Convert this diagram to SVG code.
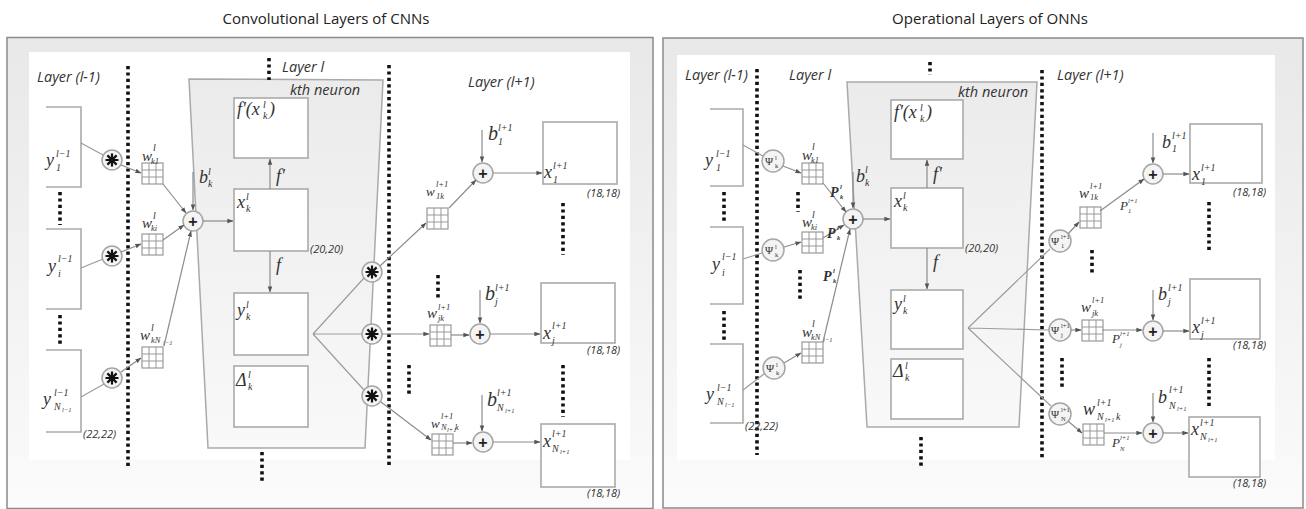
<svg xmlns="http://www.w3.org/2000/svg" xmlns:xlink="http://www.w3.org/1999/xlink" width="1306" height="509" viewBox="0 0 1306 509">
<defs>
<linearGradient id="bg" x1="0" y1="0" x2="0" y2="1"><stop offset="0" stop-color="#e8e8e8"/><stop offset="1" stop-color="#fbfbfb"/></linearGradient>
<linearGradient id="tg" x1="0" y1="0" x2="0" y2="1"><stop offset="0" stop-color="#ebebeb"/><stop offset="1" stop-color="#f9f9f9"/></linearGradient>
<marker id="ah" viewBox="0 0 8 8" refX="7.5" refY="4" markerWidth="6" markerHeight="6" orient="auto" markerUnits="userSpaceOnUse"><path d="M0 1L8 4L0 7z" fill="#555"/></marker>
<g id="gr"><rect width="21" height="21" fill="#fff" stroke="#999" stroke-width="1.2"/><path d="M7 0V21M14 0V21M0 7H21M0 14H21" stroke="#999" stroke-width="1"/></g>
<g id="cv"><circle r="10" class="cir"/><path d="M0-6.5V6.5M-6.5 0H6.5M-4.6-4.6L4.6 4.6M-4.6 4.6L4.6-4.6" stroke="#111" stroke-width="2.2"/></g>
<g id="sm"><circle r="10" class="cir"/><text x="0" y="5.5" class="pl">+</text></g>
</defs>
<style>
.frame{fill:url(#bg);stroke:#8a8a8a;stroke-width:1.5}
.inner{fill:#fff}
.trap{fill:url(#tg);stroke:#aaa;stroke-width:1.5}
.box{fill:#fff;stroke:#aaa;stroke-width:1.6}
.tbox{fill:none;stroke:#aaa;stroke-width:1.6}
.obox{fill:none;stroke:#aaa;stroke-width:1.6}
.ln{fill:none;stroke:#9c9c9c;stroke-width:1.2}
.ar{fill:none;stroke:#8c8c8c;stroke-width:1.2;marker-end:url(#ah)}
.dt{fill:none;stroke:#111;stroke-width:3.6;stroke-dasharray:3.2 3.2}
.cir{fill:#f4f4f4;stroke:#a5a5a5;stroke-width:1.5}
.t{font-family:"Open Sans","Liberation Sans",sans-serif;font-size:15px;fill:#222}
.lay{font-family:"Open Sans","Liberation Sans",sans-serif;font-style:italic;font-size:14.5px;fill:#333}
.dim{font-family:"Open Sans","Liberation Sans",sans-serif;font-style:italic;font-size:11px;fill:#333}
.m{font-family:"Liberation Serif","DejaVu Serif",serif;font-style:italic;font-size:18px;fill:#333}
.mw{font-family:"Liberation Serif","DejaVu Serif",serif;font-style:italic;font-size:15px;fill:#333}
.mb{font-family:"Liberation Serif","DejaVu Serif",serif;font-style:italic;font-size:20px;fill:#333}
.pp{font-family:"Liberation Serif","DejaVu Serif",serif;font-style:italic;font-weight:bold;font-size:14px;fill:#333}
.ps{font-family:"Liberation Serif","DejaVu Serif",serif;font-size:11px;fill:#333}
.s{font-size:10px}
.s9{font-size:8.5px}
.ss{font-size:6.5px}
.pl{font-family:"Liberation Sans",sans-serif;font-size:16px;font-weight:bold;fill:#222;text-anchor:middle}
</style>

<!-- frames -->
<g id="panel-left">
<rect class="frame" x="7" y="37.5" width="646" height="471"/>
<rect class="inner" x="29" y="52" width="601" height="408"/>
<text class="t" x="326" y="24" text-anchor="middle">Convolutional Layers of CNNs</text>
</g>
<g id="panel-right">
<rect class="frame" x="663" y="38" width="640" height="470"/>
<rect class="inner" x="677" y="55" width="598" height="405"/>
<text class="t" x="990" y="24" text-anchor="middle">Operational Layers of ONNs</text>
</g>

<!-- ===== LEFT PANEL ===== -->
<g id="L-neuron">
<path class="trap" d="M189 79L383 80L365 448L208 448Z"/>
<text class="lay" x="282" y="72">Layer l</text>
<text class="lay" x="290" y="95">kth neuron</text>
</g>
<g id="L-labels">
<text class="lay" x="37" y="82">Layer (l-1)</text>
<text class="lay" x="468" y="87">Layer (l+1)</text>
</g>
<g id="L-dots">
<path class="dt" d="M128 66V468M389 65V468M269 58V80M262 452V483M60 192V225M60 315V347M563 203V255M563 365V417M409 365V396M438 275V298"/>
</g>

<g id="L-y1"><path class="obox" d="M46 107H81V187H46"/><text class="m" x="46" y="166">y<tspan class="s" x="56" y="157">l−1</tspan><tspan class="s" x="56" y="171">1</tspan></text></g>
<g id="L-yi"><path class="obox" d="M46 229H81V309H46"/><text class="m" x="48" y="272">y<tspan class="s" x="58" y="262">l−1</tspan><tspan class="s" x="58" y="277">i</tspan></text></g>
<g id="L-yN"><path class="obox" d="M46 350H81V432H46"/><text class="m" x="43" y="405">y<tspan class="s" x="54" y="396">l−1</tspan><tspan class="s" x="54" y="410">N</tspan><tspan class="ss" x="62" y="412">l−1</tspan></text><text class="dim" x="83" y="438">(22,22)</text></g>

<g id="L-conv1"><use href="#cv" x="112" y="160"/></g>
<g id="L-conv2"><use href="#cv" x="112" y="256"/></g>
<g id="L-conv3"><use href="#cv" x="112" y="378"/></g>

<g id="L-w1"><use href="#gr" x="142" y="163"/><text class="mw" x="142" y="161">w<tspan class="s" x="153" y="151">l</tspan><tspan class="s9" x="151" y="164">k1</tspan></text></g>
<g id="L-w2"><use href="#gr" x="142" y="234"/><text class="mw" x="142" y="228">w<tspan class="s" x="153" y="219">l</tspan><tspan class="s9" x="151" y="231">ki</tspan></text></g>
<g id="L-w3"><use href="#gr" x="142" y="347"/><text class="mw" x="140" y="340">w<tspan class="s" x="151" y="331">l</tspan><tspan class="s9" x="151" y="343">kN</tspan><tspan class="ss" x="163" y="345">l−1</tspan></text></g>

<g id="L-sum"><use href="#sm" x="193" y="221"/><text class="m" x="199" y="183">b<tspan class="s" x="208" y="175">l</tspan><tspan class="s" x="208" y="187">k</tspan></text></g>

<g id="L-fbox"><rect class="box" x="234" y="98" width="74" height="60"/><text class="m" x="237" y="115">f'(x<tspan class="s" x="263" y="108">l</tspan><tspan class="s" x="263" y="119">k</tspan><tspan x="269" y="115">)</tspan></text></g>
<g id="L-xbox"><rect class="box" x="234" y="189" width="74" height="62"/><text class="m" x="237" y="208">x<tspan class="s" x="246" y="200">l</tspan><tspan class="s" x="246" y="212">k</tspan></text><text class="dim" x="310" y="253">(20,20)</text></g>
<g id="L-ybox"><rect class="box" x="234" y="293" width="74" height="62"/><text class="m" x="237" y="316">y<tspan class="s" x="246" y="308">l</tspan><tspan class="s" x="246" y="320">k</tspan></text></g>
<g id="L-dbox"><rect class="box" x="234" y="366" width="74" height="61"/><text class="m" x="236" y="386">Δ<tspan class="s" x="248" y="378">l</tspan><tspan class="s" x="248" y="390">k</tspan></text></g>

<g id="L-conv4"><use href="#cv" x="372" y="272"/></g>
<g id="L-conv5"><use href="#cv" x="372" y="334"/></g>
<g id="L-conv6"><use href="#cv" x="372" y="396"/></g>

<g id="L-w1k"><use href="#gr" x="427" y="208"/><text class="mw" x="426" y="196" style="font-size:13px">w<tspan class="s9" x="436" y="187">l+1</tspan><tspan class="s9" x="436" y="199">1k</tspan></text></g>
<g id="L-wjk"><use href="#gr" x="430" y="325"/><text class="mw" x="427" y="318">w<tspan class="s9" x="438" y="310">l+1</tspan><tspan class="s9" x="438" y="321">jk</tspan></text></g>
<g id="L-wNk"><use href="#gr" x="432" y="434"/><text class="mw" x="431" y="428" style="font-size:13px">w<tspan class="s9" x="441" y="419">l+1</tspan><tspan class="s9" x="441" y="430">N</tspan><tspan class="ss" x="447" y="432">l+1</tspan><tspan class="s9" x="455" y="430">k</tspan></text></g>

<g id="L-sum1"><use href="#sm" x="483" y="173"/><text class="mb" x="488" y="140">b<tspan class="s" x="498" y="131">l+1</tspan><tspan class="s" x="498" y="145">1</tspan></text></g>
<g id="L-sumj"><use href="#sm" x="480" y="334"/><text class="mb" x="485" y="300">b<tspan class="s" x="495" y="291">l+1</tspan><tspan class="s" x="495" y="305">j</tspan></text></g>
<g id="L-sumN"><use href="#sm" x="483" y="442"/><text class="mb" x="487" y="406">b<tspan class="s" x="497" y="396">l+1</tspan><tspan class="s" x="497" y="411">N</tspan><tspan class="ss" x="505" y="413">l+1</tspan></text></g>

<g id="L-x1"><rect class="box" x="543" y="122" width="74" height="62"/><text class="m" x="544" y="178">x<tspan class="s" x="553" y="169">l+1</tspan><tspan class="s" x="553" y="183">1</tspan></text><text class="dim" x="587" y="197">(18,18)</text></g>
<g id="L-xj"><rect class="box" x="541" y="283" width="74" height="60"/><text class="m" x="543" y="339">x<tspan class="s" x="552" y="329">l+1</tspan><tspan class="s" x="552" y="344">j</tspan></text><text class="dim" x="587" y="354">(18,18)</text></g>
<g id="L-xN"><rect class="box" x="541" y="424" width="74" height="63"/><text class="m" x="543" y="447">x<tspan class="s" x="552" y="437">l+1</tspan><tspan class="s" x="552" y="452">N</tspan><tspan class="ss" x="560" y="454">l+1</tspan></text><text class="dim" x="587" y="497">(18,18)</text></g>

<g id="L-connectors">
<path class="ln" d="M81 143L103 155M81 268L103 259M81 397L104 384M313 334L364 278M313 334L362 334M313 334L364 390"/>
<path class="ar" d="M121 165L141 173"/>
<path class="ar" d="M121 252L141 244"/>
<path class="ar" d="M121 372L141 358"/>
<path class="ar" d="M163 184L186 213"/>
<path class="ar" d="M163 240L184 225"/>
<path class="ar" d="M164 346L191 231"/>
<path class="ar" d="M193 172V210"/>
<path class="ar" d="M203 221H233"/>
<path class="ar" d="M270 189V159"/>
<path class="ar" d="M270 251V292"/>
<path class="ar" d="M380 266L426 223"/>
<path class="ar" d="M449 208L476 180"/>
<path class="ar" d="M482 130V162"/>
<path class="ar" d="M493 173H542"/>
<path class="ar" d="M382 334H429"/>
<path class="ar" d="M451 335H469"/>
<path class="ar" d="M480 290V323"/>
<path class="ar" d="M490 334H540"/>
<path class="ar" d="M381 402L431 440"/>
<path class="ar" d="M453 443H472"/>
<path class="ar" d="M482 395V431"/>
<path class="ar" d="M493 442H540"/>
<text class="m" x="276" y="182">f'</text>
<text class="m" x="276" y="271">f</text>
</g>

<!-- ===== RIGHT PANEL ===== -->
<g id="R-neuron">
<path class="trap" d="M847 82L1037 82L1019 427L867 427Z"/>
<text class="lay" x="958" y="97">kth neuron</text>
</g>
<g id="R-labels">
<text class="lay" x="685" y="80">Layer (l-1)</text>
<text class="lay" x="789" y="80">Layer l</text>
<text class="lay" x="1057" y="80">Layer (l+1)</text>
</g>
<g id="R-dots">
<path class="dt" d="M757 69V455M1042 70V458M930 62V75M921 437V467M724 192V223M724 311V341M798 192V212M800 270V300M1209 202V253M1209 358V408M1092 250V274M1062 358V388"/>
</g>

<g id="R-y1"><path class="obox" d="M710 109H743V186H710"/><text class="m" x="705" y="166">y<tspan class="s" x="716" y="157">l−1</tspan><tspan class="s" x="716" y="171">1</tspan></text></g>
<g id="R-yi"><path class="obox" d="M710 227H743V304H710"/><text class="m" x="712" y="270">y<tspan class="s" x="722" y="260">l−1</tspan><tspan class="s" x="722" y="276">i</tspan></text></g>
<g id="R-yN"><path class="obox" d="M710 344H743V423H710"/><text class="m" x="706" y="400">y<tspan class="s" x="717" y="391">l−1</tspan><tspan class="s" x="717" y="405">N</tspan><tspan class="ss" x="725" y="407">l−1</tspan></text><text class="dim" x="745" y="430">(22,22)</text></g>

<g id="R-psi1"><circle class="cir" cx="773" cy="161" r="11"/><text class="ps" x="765" y="165">Ψ<tspan class="ss" x="775" y="160">l</tspan><tspan class="ss" x="775" y="168">k</tspan></text></g>
<g id="R-psi2"><circle class="cir" cx="773" cy="250" r="11"/><text class="ps" x="765" y="254">Ψ<tspan class="ss" x="775" y="249">l</tspan><tspan class="ss" x="775" y="257">k</tspan></text></g>
<g id="R-psi3"><circle class="cir" cx="774" cy="368" r="11"/><text class="ps" x="766" y="372">Ψ<tspan class="ss" x="776" y="367">l</tspan><tspan class="ss" x="776" y="375">k</tspan></text></g>

<g id="R-w1"><use href="#gr" x="802" y="163"/><text class="mw" x="802" y="160">w<tspan class="s" x="812" y="150">l</tspan><tspan class="s9" x="811" y="163">k1</tspan></text></g>
<g id="R-w2"><use href="#gr" x="802" y="232"/><text class="mw" x="802" y="227">w<tspan class="s" x="812" y="218">l</tspan><tspan class="s9" x="811" y="230">ki</tspan></text></g>
<g id="R-w3"><use href="#gr" x="802" y="342"/><text class="mw" x="802" y="337">w<tspan class="s" x="812" y="327">l</tspan><tspan class="s9" x="811" y="340">kN</tspan><tspan class="ss" x="823" y="342">l−1</tspan></text></g>

<g id="R-sum"><use href="#sm" x="853" y="219"/><text class="m" x="856" y="182">b<tspan class="s" x="865" y="173">l</tspan><tspan class="s" x="865" y="186">k</tspan></text></g>

<g id="R-fbox"><rect class="box" x="891" y="100" width="72" height="59"/><text class="m" x="894" y="118">f'(x<tspan class="s" x="920" y="111">l</tspan><tspan class="s" x="920" y="122">k</tspan><tspan x="926" y="118">)</tspan></text></g>
<g id="R-xbox"><rect class="box" x="891" y="188" width="72" height="60"/><text class="m" x="894" y="207">x<tspan class="s" x="903" y="199">l</tspan><tspan class="s" x="903" y="211">k</tspan></text><text class="dim" x="965" y="252">(20,20)</text></g>
<g id="R-ybox"><rect class="box" x="891" y="290" width="72" height="59"/><text class="m" x="894" y="310">y<tspan class="s" x="903" y="302">l</tspan><tspan class="s" x="903" y="314">k</tspan></text></g>
<g id="R-dbox"><rect class="box" x="891" y="359" width="72" height="60"/><text class="m" x="893" y="377">Δ<tspan class="s" x="905" y="369">l</tspan><tspan class="s" x="905" y="381">k</tspan></text></g>

<g id="R-psi4"><circle class="cir" cx="1060" cy="241" r="11"/><text class="ps" x="1051" y="245">Ψ<tspan class="ss" x="1061" y="239">l+1</tspan><tspan class="ss" x="1061" y="248">1</tspan></text></g>
<g id="R-psi5"><circle class="cir" cx="1060" cy="330" r="11"/><text class="ps" x="1051" y="334">Ψ<tspan class="ss" x="1061" y="328">l+1</tspan><tspan class="ss" x="1061" y="337">j</tspan></text></g>
<g id="R-psi6"><circle class="cir" cx="1060" cy="414" r="11"/><text class="ps" x="1051" y="418">Ψ<tspan class="ss" x="1061" y="412">l+1</tspan><tspan class="ss" x="1061" y="421">N</tspan></text></g>

<g id="R-w1k"><use href="#gr" x="1080" y="207"/><text class="mw" x="1079" y="198">w<tspan class="s9" x="1090" y="189">l+1</tspan><tspan class="s9" x="1090" y="200">1k</tspan></text></g>
<g id="R-wjk"><use href="#gr" x="1082" y="320"/><text class="mw" x="1081" y="312">w<tspan class="s9" x="1092" y="303">l+1</tspan><tspan class="s9" x="1092" y="316">jk</tspan></text></g>
<g id="R-wNk"><use href="#gr" x="1083" y="424"/><text class="m" x="1083" y="415">w<tspan class="s" x="1097" y="406">l+1</tspan><tspan class="s" x="1097" y="420">N</tspan><tspan class="ss" x="1105" y="422">l+1</tspan><tspan class="s" x="1116" y="420">k</tspan></text></g>

<g id="R-sum1"><use href="#sm" x="1153" y="174"/><text class="m" x="1162" y="148">b<tspan class="s" x="1172" y="139">l+1</tspan><tspan class="s" x="1172" y="152">1</tspan></text><text class="pp" x="1120" y="210" style="font-weight:normal;font-size:13px">P<tspan class="ss" x="1128" y="203">l+1</tspan><tspan class="ss" x="1128" y="213">1</tspan></text></g>
<g id="R-sumj"><use href="#sm" x="1153" y="331"/><text class="m" x="1158" y="300">b<tspan class="s" x="1168" y="291">l+1</tspan><tspan class="s" x="1168" y="305">j</tspan></text><text class="pp" x="1112" y="343" style="font-weight:normal;font-size:13px">P<tspan class="ss" x="1120" y="336">l+1</tspan><tspan class="ss" x="1120" y="347">j</tspan></text></g>
<g id="R-sumN"><use href="#sm" x="1153" y="433"/><text class="m" x="1158" y="403">b<tspan class="s" x="1169" y="393">l+1</tspan><tspan class="s" x="1169" y="409">N</tspan><tspan class="ss" x="1177" y="411">l+1</tspan></text><text class="pp" x="1112" y="447" style="font-weight:normal;font-size:13px">P<tspan class="ss" x="1120" y="440">l+1</tspan><tspan class="ss" x="1120" y="451">N</tspan></text></g>

<g id="R-x1"><rect class="box" x="1190" y="124" width="72" height="59"/><text class="m" x="1192" y="180">x<tspan class="s" x="1201" y="171">l+1</tspan><tspan class="s" x="1201" y="185">1</tspan></text><text class="dim" x="1233" y="196">(18,18)</text></g>
<g id="R-xj"><rect class="box" x="1190" y="279" width="70" height="60"/><text class="m" x="1192" y="333">x<tspan class="s" x="1201" y="324">l+1</tspan><tspan class="s" x="1201" y="338">j</tspan></text><text class="dim" x="1233" y="349">(18,18)</text></g>
<g id="R-xN"><rect class="box" x="1189" y="417" width="71" height="60"/><text class="m" x="1191" y="435">x<tspan class="s" x="1200" y="426">l+1</tspan><tspan class="s" x="1200" y="440">N</tspan><tspan class="ss" x="1208" y="442">l+1</tspan></text><text class="dim" x="1233" y="487">(18,18)</text></g>

<g id="R-connectors">
<path class="ln" d="M743 145L763 156M743 259L762 253M743 390L764 374M968 328L1050 249M968 328L1049 330M968 328L1051 406"/>
<path class="ar" d="M783 166L801 173"/>
<path class="ar" d="M784 247L801 242"/>
<path class="ar" d="M784 363L801 353"/>
<path class="ar" d="M823 183L846 212"/>
<path class="ar" d="M823 238L844 225"/>
<path class="ar" d="M823 342L850 229"/>
<path class="ar" d="M853 172V208"/>
<path class="ar" d="M863 219H890"/>
<path class="ar" d="M927 188V160"/>
<path class="ar" d="M927 248V289"/>
<path class="ar" d="M1068 234L1079 222"/>
<path class="ar" d="M1100 211L1144 179"/>
<path class="ar" d="M1153 133V163"/>
<path class="ar" d="M1163 174H1189"/>
<path class="ar" d="M1071 330H1081"/>
<path class="ar" d="M1102 330H1142"/>
<path class="ar" d="M1153 290V320"/>
<path class="ar" d="M1163 331H1189"/>
<path class="ar" d="M1068 421L1082 433"/>
<path class="ar" d="M1104 433H1142"/>
<path class="ar" d="M1153 393V422"/>
<path class="ar" d="M1163 433H1188"/>
<text class="pp" x="830" y="197">P<tspan class="ss" x="840" y="189">l</tspan><tspan class="ss" x="840" y="199">k</tspan></text>
<text class="pp" x="827" y="238">P<tspan class="ss" x="837" y="230">l</tspan><tspan class="ss" x="837" y="240">k</tspan></text>
<text class="pp" x="823" y="281">P<tspan class="ss" x="833" y="273">l</tspan><tspan class="ss" x="833" y="283">k</tspan></text>
<text class="m" x="933" y="180">f'</text>
<text class="m" x="933" y="268">f</text>
</g>
</svg>
